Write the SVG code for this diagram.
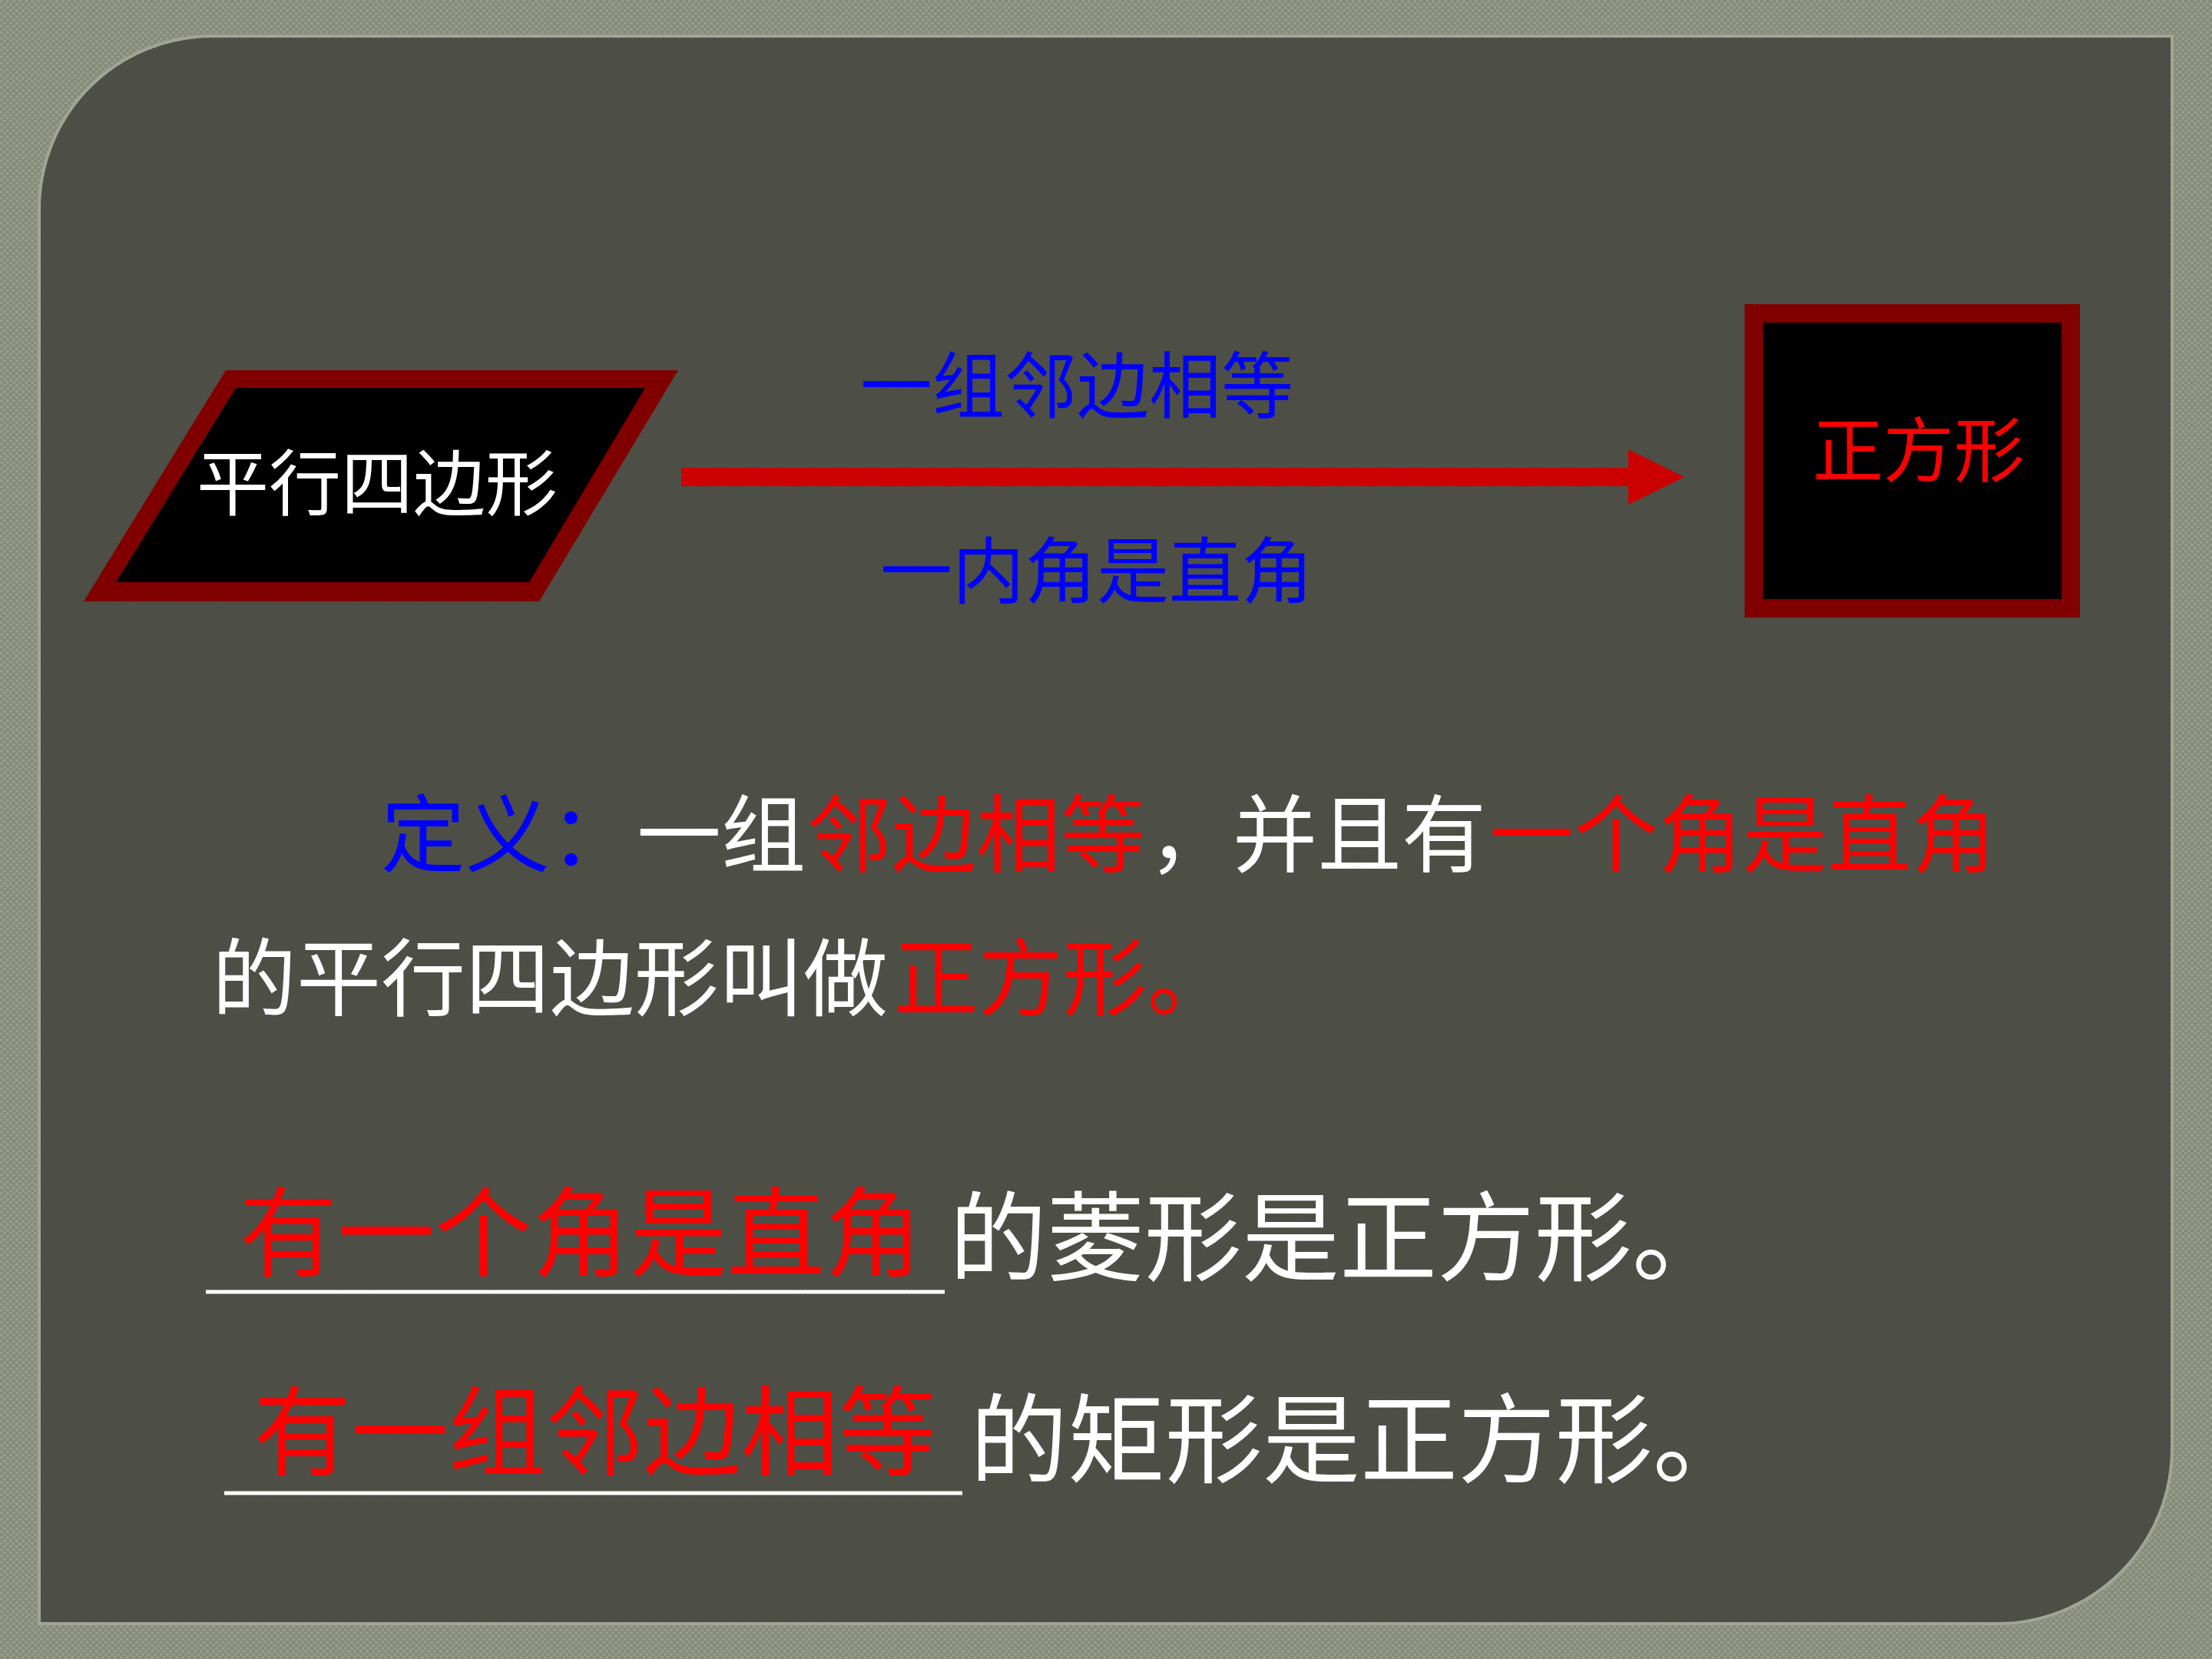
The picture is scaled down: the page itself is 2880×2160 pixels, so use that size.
<svg xmlns="http://www.w3.org/2000/svg" width="2880" height="2160" viewBox="0 0 2880 2160">
  <defs>
    <pattern id="weave" width="8" height="8" patternUnits="userSpaceOnUse">
      <rect width="8" height="8" fill="#868b7a"/>
      <circle cx="2" cy="2" r="1.8" fill="#9ba08f"/>
      <circle cx="6" cy="6" r="1.8" fill="#9ba08f"/>
    </pattern>
    <pattern id="panelTex" width="6" height="6" patternUnits="userSpaceOnUse">
      <rect width="6" height="6" fill="#4c4d45"/>
      <circle cx="1.5" cy="1.5" r="1" fill="#52534a"/>
      <circle cx="4.5" cy="4.5" r="1" fill="#52534a"/>
    </pattern>
    <marker id="arrowHead" markerUnits="userSpaceOnUse" markerWidth="74" markerHeight="72" refX="0" refY="36" orient="auto">
      <path d="M0,0 L73,36 L0,72 Z" fill="#cc0000"/>
    </marker>
    <style>
      .cjk { font-family: "Noto Sans CJK SC", sans-serif; }
      .white { fill: #ffffff; }
      .red { fill: #ff0000; }
      .blue { fill: #0000ff; }
      .frame { fill: #800000; }
      .uline { stroke: #ffffff; stroke-width: 5; }
    </style>
  </defs>

  <!-- background -->
  <rect x="0" y="0" width="2880" height="2160" fill="url(#weave)"/>
  <path d="M51,272 A225,225 0 0 1 276,47 L2828,47 L2828,1886 A228,228 0 0 1 2600,2114 L51,2114 Z" fill="url(#panelTex)" stroke="#a2a596" stroke-width="4"/>

  <!-- connectors -->
  <g id="connectors">
    <line x1="887" y1="621" x2="2120" y2="621" stroke="#cc0000" stroke-width="24" marker-end="url(#arrowHead)"/>
  </g>

  <!-- parallelogram node -->
  <g id="node-parallelogram">
    <polygon class="frame" points="294,482 883,482 702,783 109,783"/>
    <polygon points="307,505 840,505 689,758 151,758" fill="#000000"/>
    <text class="cjk white" x="256" y="664" font-size="94">平行四边形</text>
  </g>

  <!-- square node -->
  <g id="node-square">
    <rect x="2283.5" y="408" width="412.5" height="384" fill="#000000" stroke="#800000" stroke-width="24"/>
    <text class="cjk red" x="2360" y="620" font-size="92">正方形</text>
  </g>

  <!-- arrow labels -->
  <g id="label-top">
    <text class="cjk blue" x="1120" y="537" font-size="94">一组邻边相等</text>
  </g>
  <g id="label-bottom">
    <text class="cjk blue" x="1146" y="778" font-size="94">一内角是直角</text>
  </g>

  <!-- definition -->
  <g id="definition" class="cjk" font-size="110">
    <text y="1127"><tspan class="blue" x="496">定义：</tspan><tspan class="white" x="829">一组</tspan><tspan class="red" x="1051">邻边相等</tspan><tspan class="white" x="1495">，并且有</tspan><tspan class="red" x="1939">一个角是直角</tspan></text>
    <text y="1314"><tspan class="white" x="276">的平行四边形叫做</tspan><tspan class="red" x="1164">正方形。</tspan></text>
  </g>

  <!-- statement 1 -->
  <g id="statement-1" class="cjk" font-size="127">
    <line class="uline" x1="268" y1="1682" x2="1230" y2="1682"/>
    <text class="red" x="312" y="1652">有一个角是直角</text>
    <text class="white" x="1236" y="1658">的菱形是正方形。</text>
  </g>

  <!-- statement 2 -->
  <g id="statement-2" class="cjk" font-size="127">
    <line class="uline" x1="292" y1="1944" x2="1253" y2="1944"/>
    <text class="red" x="330" y="1911">有一组邻边相等</text>
    <text class="white" x="1263" y="1921">的矩形是正方形。</text>
  </g>
</svg>
